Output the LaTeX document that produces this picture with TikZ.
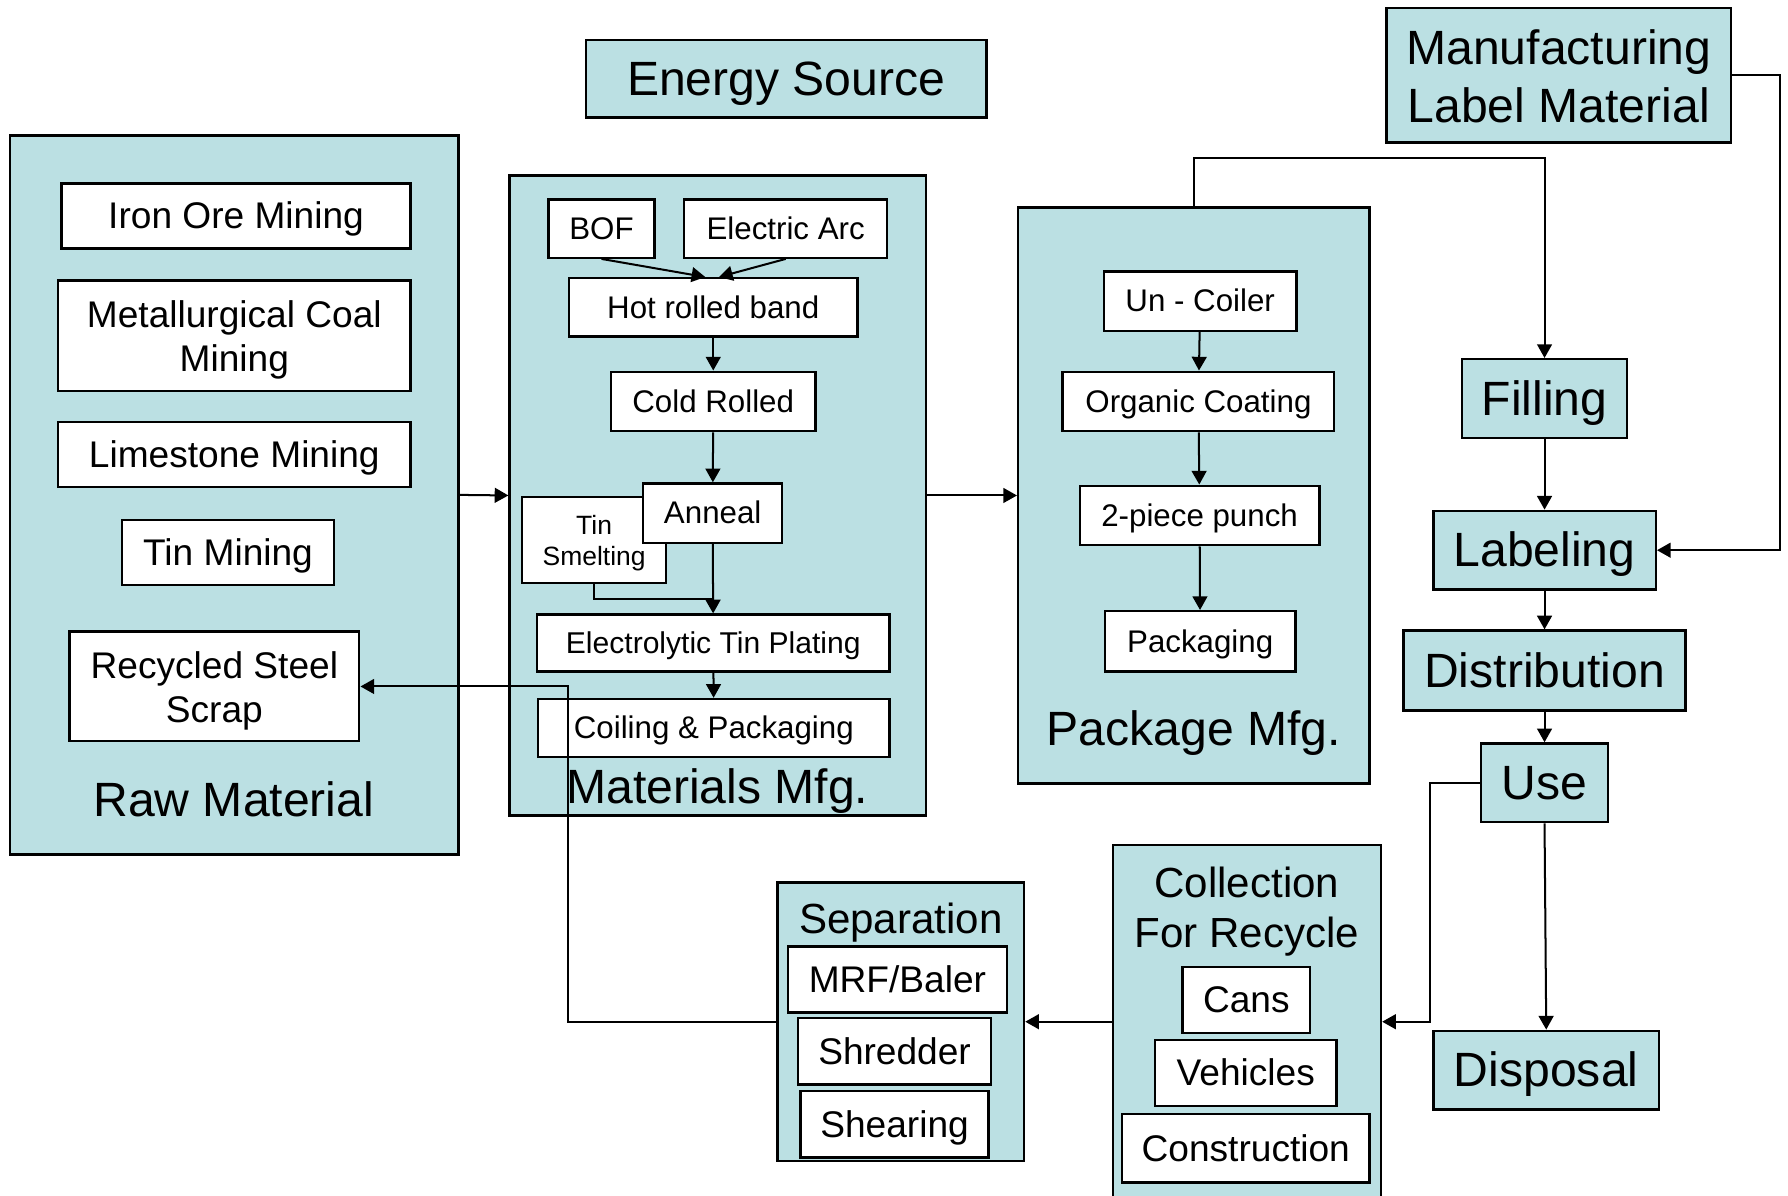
\documentclass[tikz,border=0pt]{standalone}
\usepackage{fontspec}
\setmainfont{Liberation Sans}
\usepackage{tikz}
\usetikzlibrary{arrows.meta,positioning}
\definecolor{boxteal}{RGB}{187,224,227}

\begin{document}
\begin{tikzpicture}[x=0.01cm, y=-0.01cm,
    every node/.style={inner sep=0pt, align=center},
    pptext/.style={execute at begin node={\rule[-0.212em]{0pt}{1.117em}}},
    block/.style={draw, line width=0.6pt, fill=boxteal, font=\fontsize{12}{14.5}\selectfont, pptext},
    group/.style={draw, line width=0.6pt, fill=boxteal},
    mine/.style={draw, line width=0.6pt, fill=white, font=\fontsize{9.25}{11.1}\selectfont, pptext},
    proc/.style={draw, line width=0.6pt, fill=white, font=\fontsize{7.8}{9.4}\selectfont, pptext},
    title/.style={font=\fontsize{12}{14.5}\selectfont, anchor=base},
    subtitle/.style={font=\fontsize{10.5}{12.5}\selectfont, anchor=base},
    arr/.style={-{Triangle[length=0.12cm, width=0.13cm]}, line width=0.5pt}
]
    \useasboundingbox (0,0) rectangle (1568,1048);
    \clip (0,0) rectangle (1568,1048);

    % Top blocks
    \node[block, minimum width=3.51cm, minimum height=0.68cm] (energy) at (689.5,69) {Energy Source};
    \node[block, minimum width=3.02cm, minimum height=1.18cm] (lblmat) at (1367,66) {\rule{0pt}{0.96em}Manufacturing\\Label Material};

    % Raw material
    \node[group, minimum width=3.93cm, minimum height=6.30cm] (raw) at (205.5,434) {};
    \node[title] (rawtxt) at (205,716) {Raw Material};
    \node[mine, minimum width=3.06cm, minimum height=0.57cm] (iron) at (207,189.5) {Iron Ore Mining};
    \node[mine, minimum width=3.09cm, minimum height=0.97cm] (coal) at (205.5,294.5) {\rule{0pt}{0.96em}Metallurgical Coal\\Mining};
    \node[mine, minimum width=3.09cm, minimum height=0.57cm] (lime) at (205.5,398.5) {Limestone Mining};
    \node[mine, minimum width=1.86cm, minimum height=0.57cm] (tinmine) at (200,484.5) {Tin Mining};
    \node[mine, minimum width=2.54cm, minimum height=0.96cm] (scrap) at (188,602) {\rule{0pt}{0.96em}Recycled Steel\\Scrap};

    % Materials mfg
    \node[group, minimum width=3.65cm, minimum height=5.61cm] (mat) at (629.5,434.5) {};
    \node[title] (mattxt) at (629,705) {Materials Mfg.};
    \node[proc, minimum width=0.93cm, minimum height=0.51cm] (bof) at (527.5,200.5) {BOF};
    \node[proc, minimum width=1.78cm, minimum height=0.51cm] (arc) at (689,200.5) {Electric Arc};
    \node[proc, minimum width=2.53cm, minimum height=0.51cm] (hot) at (625.5,269.5) {Hot rolled band};
    \node[proc, minimum width=1.79cm, minimum height=0.52cm] (cold) at (625.5,352) {Cold Rolled};
    \node[proc, minimum width=1.26cm, minimum height=0.75cm, font=\fontsize{6.6}{7.9}\selectfont] (tinsm) at (521,473.5) {\rule{0pt}{0.97em}Tin\\Smelting};
    \node[proc, minimum width=1.22cm, minimum height=0.52cm] (anneal) at (625,450) {Anneal};
    \node[proc, minimum width=3.09cm, minimum height=0.50cm, font=\fontsize{7.5}{9}\selectfont] (plating) at (625.5,564) {Electrolytic Tin Plating};
    \node[proc, minimum width=3.08cm, minimum height=0.51cm] (coiling) at (626,638.5) {Coiling \& Packaging};

    % Package mfg
    \node[group, minimum width=3.08cm, minimum height=5.05cm] (pkg) at (1047,434.5) {};
    \node[title] (pkgtxt) at (1047,654) {Package Mfg.};
    \node[proc, minimum width=1.69cm, minimum height=0.52cm] (uncoil) at (1052.5,264) {Un - Coiler};
    \node[proc, minimum width=2.38cm, minimum height=0.52cm] (organic) at (1051,352) {Organic Coating};
    \node[proc, minimum width=2.10cm, minimum height=0.52cm] (punch) at (1052,452) {2-piece punch};
    \node[proc, minimum width=1.67cm, minimum height=0.53cm] (packg) at (1052.5,562.5) {Packaging};

    % Right column
    \node[block, minimum width=1.45cm, minimum height=0.69cm] (filling) at (1354.5,349.5) {Filling};
    \node[block, minimum width=1.95cm, minimum height=0.69cm] (labeling) at (1354.5,482.5) {Labeling};
    \node[block, minimum width=2.47cm, minimum height=0.70cm] (distrib) at (1354.5,588) {Distribution};
    \node[block, minimum width=1.11cm, minimum height=0.69cm] (use) at (1354.5,686.5) {Use};
    \node[block, minimum width=1.98cm, minimum height=0.69cm] (disposal) at (1356,938.5) {Disposal};

    % Collection
    \node[group, minimum width=2.35cm, minimum height=3.10cm] (collect) at (1093.5,896) {};
    \node[subtitle] (coltxt) at (1093.5,787) {Collection};
    \node[subtitle] (coltxtb) at (1093.5,831) {For Recycle};
    \node[mine, minimum width=1.12cm, minimum height=0.58cm] (cans) at (1093,877) {Cans};
    \node[mine, minimum width=1.59cm, minimum height=0.58cm] (vehicles) at (1092.5,941) {Vehicles};
    \node[mine, minimum width=2.17cm, minimum height=0.60cm] (construct) at (1092.5,1007) {Construction};

    % Separation
    \node[group, minimum width=2.16cm, minimum height=2.44cm] (sep) at (790,896) {};
    \node[subtitle] (septxt) at (790,819) {Separation};
    \node[mine, minimum width=1.92cm, minimum height=0.58cm] (mrf) at (787,859) {MRF/Baler};
    \node[mine, minimum width=1.69cm, minimum height=0.58cm] (shred) at (784.5,922) {Shredder};
    \node[mine, minimum width=1.65cm, minimum height=0.58cm] (shear) at (784.5,986) {Shearing};

    % Connectors
    \draw[arr] (raw.east) -- (mat.west);
    \draw[arr] (mat.east) -- (pkg.west);
    \draw[arr] (bof.south) -- ([xshift=-0.07cm]hot.north);
    \draw[arr] (arc.south) -- ([xshift=0.05cm]hot.north);
    \draw[line width=0.5pt] (tinsm.south) |- ([yshift=0.13cm]plating.north);
    \foreach \a/\b in {hot/cold, cold/anneal, anneal/plating, plating/coiling,
                       uncoil/organic, organic/punch, punch/packg,
                       filling/labeling, labeling/distrib, distrib/use}
        \draw[arr] (\a) -- (\b);
    \draw[arr] (pkg.north) -- ++(0,-42) -| (filling.north);
    \draw[arr] (lblmat.east) -- ++(42,0) |- (labeling.east);
    \draw[arr] (use.west) -- ++(-44,0) |- (collect.east);
    \draw[arr] (use.south) -- (disposal.north);
    \draw[arr] (collect.west) -- (sep.east);
    \draw[arr] (sep.west) -- ++(-183,0) |- (scrap.east);

\end{tikzpicture}
\end{document}
